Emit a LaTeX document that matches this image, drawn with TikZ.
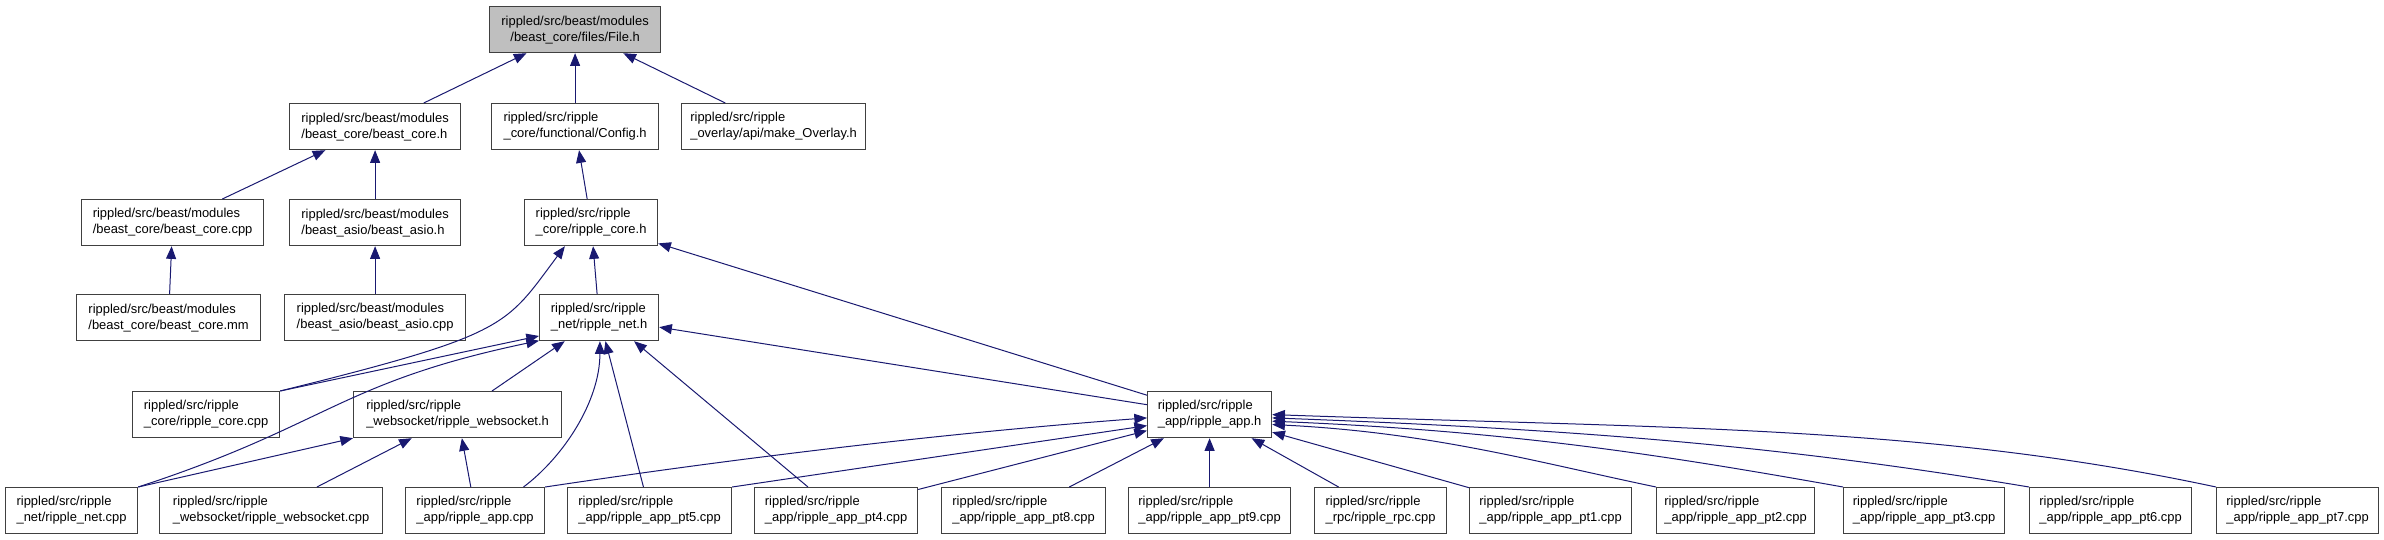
\documentclass[tikz,border=0pt]{standalone}
\usepackage{fontspec}
\setmainfont{Liberation Sans}
\usetikzlibrary{arrows.meta}
\definecolor{midnight}{HTML}{191970}
\begin{document}
\begin{tikzpicture}[x=0.75pt, y=-0.75pt,
		incbox/.style={draw=black!75, line width=0.9pt, fill=white, anchor=north west, minimum height=34.5pt, inner sep=1pt, align=left, font=\fontsize{9.7}{12}\selectfont},
		rootbox/.style={incbox, fill=black!25, align=center},
		incl/.style={draw=midnight, line width=0.75pt, -{Triangle[length=9.5pt, width=7.5pt]}}]
	\useasboundingbox (0,0) rectangle (2384,539);
	\node[rootbox, minimum width=128.25pt] (fileh) at (489,6) {rippled/src/beast/modules\\/beast\_core/files/File.h};
	\node[incbox, minimum width=128.25pt] (bcoreh) at (289,103) {rippled/src/beast/modules\\/beast\_core/beast\_core.h};
	\node[incbox, minimum width=125.25pt] (configh) at (491,103) {rippled/src/ripple\\\_core/functional/Config.h};
	\node[incbox, minimum width=138pt] (overlayh) at (681,103) {rippled/src/ripple\\\_overlay/api/make\_Overlay.h};
	\node[incbox, minimum width=136.5pt] (bcorecpp) at (81,199) {rippled/src/beast/modules\\/beast\_core/beast\_core.cpp};
	\node[incbox, minimum width=128.25pt] (basioh) at (289,199) {rippled/src/beast/modules\\/beast\_asio/beast\_asio.h};
	\node[incbox, minimum width=99.75pt] (rcoreh) at (524,199) {rippled/src/ripple\\\_core/ripple\_core.h};
	\node[incbox, minimum width=138pt] (bcoremm) at (76,294) {rippled/src/beast/modules\\/beast\_core/beast\_core.mm};
	\node[incbox, minimum width=135.75pt] (basiocpp) at (284,294) {rippled/src/beast/modules\\/beast\_asio/beast\_asio.cpp};
	\node[incbox, minimum width=89.25pt] (neth) at (539,294) {rippled/src/ripple\\\_net/ripple\_net.h};
	\node[incbox, minimum width=110.25pt] (rcorecpp) at (132,391) {rippled/src/ripple\\\_core/ripple\_core.cpp};
	\node[incbox, minimum width=156pt] (wsh) at (353,391) {rippled/src/ripple\\\_websocket/ripple\_websocket.h};
	\node[incbox, minimum width=93pt] (apph) at (1147,391) {rippled/src/ripple\\\_app/ripple\_app.h};
	\node[incbox, minimum width=99pt] (netcpp) at (5,487) {rippled/src/ripple\\\_net/ripple\_net.cpp};
	\node[incbox, minimum width=167.25pt] (wscpp) at (159,487) {rippled/src/ripple\\\_websocket/ripple\_websocket.cpp};
	\node[incbox, minimum width=104.25pt] (appcpp) at (405,487) {rippled/src/ripple\\\_app/ripple\_app.cpp};
	\node[incbox, minimum width=123pt] (pt5) at (567,487) {rippled/src/ripple\\\_app/ripple\_app\_pt5.cpp};
	\node[incbox, minimum width=122.25pt] (pt4) at (754,487) {rippled/src/ripple\\\_app/ripple\_app\_pt4.cpp};
	\node[incbox, minimum width=123pt] (pt8) at (941,487) {rippled/src/ripple\\\_app/ripple\_app\_pt8.cpp};
	\node[incbox, minimum width=121.5pt] (pt9) at (1128,487) {rippled/src/ripple\\\_app/ripple\_app\_pt9.cpp};
	\node[incbox, minimum width=99pt] (rpc) at (1314,487) {rippled/src/ripple\\\_rpc/ripple\_rpc.cpp};
	\node[incbox, minimum width=121.5pt] (pt1) at (1469,487) {rippled/src/ripple\\\_app/ripple\_app\_pt1.cpp};
	\node[incbox, minimum width=118.5pt] (pt2) at (1656,487) {rippled/src/ripple\\\_app/ripple\_app\_pt2.cpp};
	\node[incbox, minimum width=120.75pt] (pt3) at (1843,487) {rippled/src/ripple\\\_app/ripple\_app\_pt3.cpp};
	\node[incbox, minimum width=121.5pt] (pt6) at (2029,487) {rippled/src/ripple\\\_app/ripple\_app\_pt6.cpp};
	\node[incbox, minimum width=121.5pt] (pt7) at (2216,487) {rippled/src/ripple\\\_app/ripple\_app\_pt7.cpp};
	\draw[incl] (bcoreh) -- (fileh);
	\draw[incl] (configh) -- (fileh);
	\draw[incl] (overlayh) -- (fileh);
	\draw[incl] (bcorecpp) -- (bcoreh);
	\draw[incl] (basioh) -- (bcoreh);
	\draw[incl] (rcoreh) -- (configh);
	\draw[incl] (bcoremm) -- (bcorecpp);
	\draw[incl] (basiocpp) -- (basioh);
	\draw[incl] (neth) -- (rcoreh);
	\draw[incl] (apph) -- (rcoreh);
	\draw[incl] (rcorecpp.north east) .. controls +(230,-57) and +(-60,80) .. (rcoreh.-138);
	\draw[incl] (rcorecpp.north east) -- (neth.197);
	\draw[incl] (netcpp.north east) .. controls +(190,-62) and +(-200,42) .. (neth.201);
	\draw[incl] (wsh) -- (neth);
	\draw[incl] (appcpp.26) .. controls +(40,-30) and +(0,60) .. (neth.-88);
	\draw[incl] (pt5) -- (neth.-75);
	\draw[incl] (pt4) -- (neth.-34);
	\draw[incl] (apph) -- (neth);
	\draw[incl] (netcpp.north east) -- (wsh.south west);
	\draw[incl] (wscpp) -- (wsh);
	\draw[incl] (appcpp) -- (wsh);
	\draw[incl] (appcpp.north east) .. controls +(200,-30) and +(-200,15) .. (apph.183);
	\draw[incl] (pt5.north east) -- (apph.190);
	\draw[incl] (pt4) -- (apph);
	\draw[incl] (pt8) -- (apph);
	\draw[incl] (pt9) -- (apph);
	\draw[incl] (rpc) -- (apph);
	\draw[incl] (pt1) -- (apph);
	\draw[incl] (pt2.north west) .. controls +(-120,-25) and +(160,8) .. (apph.-9);
	\draw[incl] (pt3.north west) .. controls +(-180,-32) and +(240,10) .. (apph.-6);
	\draw[incl] (pt6.north west) .. controls +(-240,-40) and +(320,12) .. (apph.-3);
	\draw[incl] (pt7.north west) .. controls +(-290,-62) and +(400,14) .. (apph.0);
\end{tikzpicture}
\end{document}
